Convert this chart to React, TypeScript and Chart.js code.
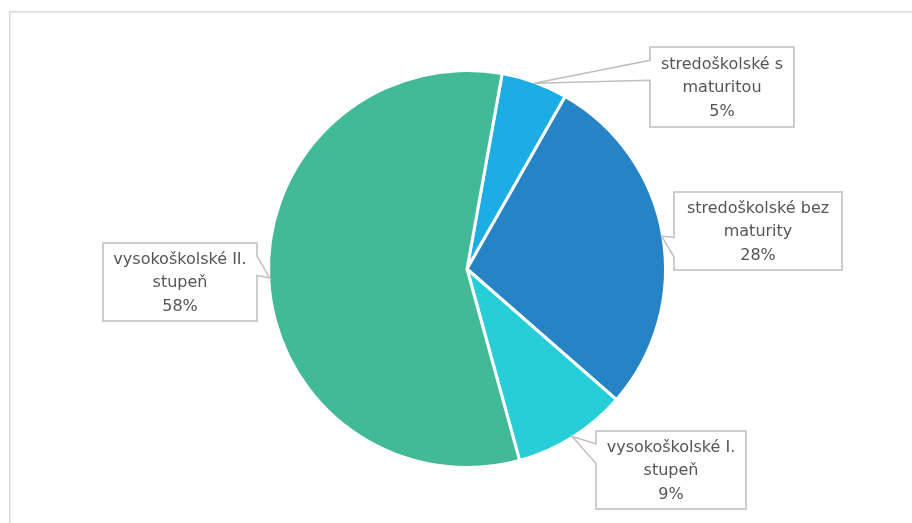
import React, { useEffect, useRef } from "react";
import { Chart, registerables } from "chart.js";

Chart.register(...registerables);

const categories: string[][] = [
  ["stredoškolské s", "maturitou"],
  ["stredoškolské bez", "maturity"],
  ["vysokoškolské I.", "stupeň"],
  ["vysokoškolské II.", "stupeň"],
];
const values: number[] = [5.4, 28.2, 9.3, 57.1];
const percentLabels: string[] = ["5%", "28%", "9%", "58%"];
const colors: string[] = ["#1CADE4", "#2683C6", "#27CED7", "#42BA97"];

// callout box layout (left, top, width, height) in canvas pixels
const boxes = [
  { l: 650, t: 47, w: 144, h: 80 },
  { l: 674, t: 192, w: 168, h: 78 },
  { l: 596, t: 431, w: 150, h: 78 },
  { l: 103, t: 243, w: 154, h: 78 },
];

const FONT = "16px 'DejaVu Sans', sans-serif";

const calloutPlugin = {
  id: "callouts",
  beforeDraw(chart: any) {
    const ctx = chart.ctx;
    ctx.save();
    ctx.strokeStyle = "#D9D9D9";
    ctx.lineWidth = 1.5;
    ctx.beginPath();
    ctx.moveTo(9.75, 523);
    ctx.lineTo(9.75, 11.75);
    ctx.lineTo(912, 11.75);
    ctx.stroke();
    ctx.restore();
  },
  afterDraw(chart: any) {
    const ctx = chart.ctx;
    const meta = chart.getDatasetMeta(0);
    meta.data.forEach((arc: any, i: number) => {
      const { x, y, startAngle, endAngle, outerRadius } = arc.getProps(
        ["x", "y", "startAngle", "endAngle", "outerRadius"],
        true
      );
      const mid = (startAngle + endAngle) / 2;
      const tx = x + Math.cos(mid) * (outerRadius - 1);
      const ty = y + Math.sin(mid) * (outerRadius - 1);
      const b = boxes[i];
      const l = b.l, t = b.t, w = b.w, h = b.h;
      const r = l + w, bt = t + h;
      const hc = l + w / 2, vc = t + h / 2;
      const dx = tx - hc, dy = ty - vc;
      const dq = (dx * h) / w;
      const dz = Math.abs(dy) - Math.abs(dq);
      const xg1 = dx > 0 ? 7 : 2, xg2 = dx > 0 ? 10 : 5;
      const yg1 = dy > 0 ? 7 : 2, yg2 = dy > 0 ? 10 : 5;
      const x1 = l + (w * xg1) / 12, x2 = l + (w * xg2) / 12;
      const y1 = t + (h * yg1) / 12, y2 = t + (h * yg2) / 12;
      const inside = tx >= l && tx <= r && ty >= t && ty <= bt;
      let side = "none";
      if (!inside) {
        if (dz > 0) side = dy < 0 ? "top" : "bottom";
        else side = dx < 0 ? "left" : "right";
      }
      ctx.save();
      ctx.beginPath();
      ctx.moveTo(l, t);
      if (side === "top") { ctx.lineTo(x1, t); ctx.lineTo(tx, ty); ctx.lineTo(x2, t); }
      ctx.lineTo(r, t);
      if (side === "right") { ctx.lineTo(r, y1); ctx.lineTo(tx, ty); ctx.lineTo(r, y2); }
      ctx.lineTo(r, bt);
      if (side === "bottom") { ctx.lineTo(x2, bt); ctx.lineTo(tx, ty); ctx.lineTo(x1, bt); }
      ctx.lineTo(l, bt);
      if (side === "left") { ctx.lineTo(l, y2); ctx.lineTo(tx, ty); ctx.lineTo(l, y1); }
      ctx.closePath();
      ctx.fillStyle = "#FFFFFF";
      ctx.fill();
      ctx.strokeStyle = "#BFBFBF";
      ctx.lineWidth = 1.5;
      ctx.lineJoin = "miter";
      ctx.stroke();

      const lines = [...categories[i], percentLabels[i]];
      ctx.fillStyle = "#555555";
      ctx.font = FONT;
      ctx.textAlign = "center";
      ctx.textBaseline = "middle";
      const lh = 23.5;
      const y0 = vc + 1 - ((lines.length - 1) * lh) / 2;
      lines.forEach((s, k) => ctx.fillText(s, hc, y0 + k * lh));
      ctx.restore();
    });
  },
};

export default function App() {
  const ref = useRef<HTMLCanvasElement>(null);
  useEffect(() => {
    const chart = new Chart(ref.current!, {
      type: "pie",
      data: {
        labels: categories,
        datasets: [
          {
            data: values,
            backgroundColor: colors,
            borderColor: "#FFFFFF",
            borderWidth: 3,
            radius: 198.5,
          } as any,
        ],
      },
      options: {
        animation: false,
        responsive: false,
        rotation: 10.2,
        layout: { padding: { left: 62, right: 40, top: 40, bottom: 25 } },
        plugins: {
          legend: { display: false },
          tooltip: { enabled: false },
        },
      },
      plugins: [calloutPlugin],
    });
    return () => chart.destroy();
  }, []);
  return (
    <div style={{ position: "fixed", left: 0, top: 0, width: 912, height: 523, background: "#fff" }}>
      <canvas ref={ref} width={912} height={523} style={{ display: "block" }} />
    </div>
  );
}
